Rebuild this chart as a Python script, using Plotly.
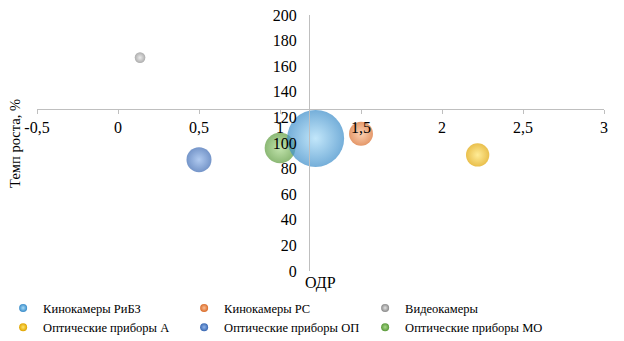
import plotly.graph_objects as go

# ---- data ----
series_names = ["Кинокамеры РиБЗ", "Кинокамеры РС", "Видеокамеры",
                "Оптические приборы А", "Оптические приборы ОП", "Оптические приборы МО"]
odr_values = [1.22, 1.50, 0.136, 2.22, 0.50, 1.00]          # X: ОДР
growth_values = [103.6, 107.3, 166.7, 90.7, 87.0, 96.1]      # Y: Темп роста, %
bubble_sizes = [100, 17.7, 3.5, 16.7, 19.2, 29.0]            # bubble size (area)

x_tick_vals = [-0.5, 0, 0.5, 1, 1.5, 2, 2.5, 3]
x_tick_labels = ["-0,5", "0", "0,5", "1", "1,5", "2", "2,5", "3"]
y_tick_vals = [0, 20, 40, 60, 80, 100, 120, 140, 160, 180, 200]
y_tick_labels = [str(v) for v in y_tick_vals]

X_RANGE = [-0.5, 3]
Y_RANGE = [0, 200]
X_CROSS = 1.179   # vertical axis crosses at this ОДР
Y_CROSS = 126.8   # horizontal axis crosses at this growth rate

# ---- style ----
edge_colors = ["#3A8CC9", "#D96C2A", "#8A8A8A", "#E0A400", "#3A68B2", "#5A9A3A"]
center_colors = ["#A8DCF8", "#FBBE94", "#E2E2E2", "#FFE46A", "#8FB4EA", "#A8D88A"]
FONT = "Liberation Serif, Times New Roman, serif"
MAX_D = 57

fig = go.Figure()

sizeref = 2.0 * max(bubble_sizes) / (MAX_D ** 2)
draw_order = [5, 4, 3, 2, 1, 0]
for i in draw_order:
    fig.add_trace(go.Scatter(
        x=[odr_values[i]], y=[growth_values[i]], mode="markers",
        name=series_names[i], showlegend=False, hoverinfo="name",
        marker=dict(size=[bubble_sizes[i]], sizemode="area", sizeref=sizeref,
                    color=edge_colors[i], line=dict(width=0),
                    gradient=dict(type="radial", color=center_colors[i])),
    ))

for i in range(len(series_names)):
    fig.add_trace(go.Scatter(
        x=[None], y=[None], mode="markers", name=series_names[i],
        marker=dict(size=8, color=edge_colors[i], line=dict(width=0),
                    gradient=dict(type="radial", color=center_colors[i])),
    ))

xpos = (Y_CROSS - Y_RANGE[0]) / (Y_RANGE[1] - Y_RANGE[0])
ypos = (X_CROSS - X_RANGE[0]) / (X_RANGE[1] - X_RANGE[0])

fig.update_layout(
    width=624, height=341,
    margin=dict(l=37, r=20, t=15, b=70, autoexpand=False),
    paper_bgcolor="white", plot_bgcolor="white",
    font=dict(family=FONT, size=16, color="black"),
    xaxis=dict(range=X_RANGE, tickvals=x_tick_vals, ticktext=x_tick_labels,
               anchor="free", position=xpos, showline=True, linecolor="#BFBFBF",
               linewidth=1, ticks="outside", ticklen=4, tickcolor="#BFBFBF",
               showgrid=False, zeroline=False, automargin=False,
               tickfont=dict(family=FONT, size=16)),
    yaxis=dict(range=Y_RANGE, tickvals=y_tick_vals, ticktext=y_tick_labels,
               anchor="free", position=ypos, showline=True, linecolor="#BFBFBF",
               linewidth=1, ticks="", showgrid=False, zeroline=False, automargin=False,
               ticklabelstandoff=9, tickfont=dict(family=FONT, size=16)),
    legend=dict(orientation="h", xref="container", x=0.005, xanchor="left",
                yref="container", y=0.14, yanchor="top",
                entrywidth=136, font=dict(family=FONT, size=12.5),
                traceorder="normal", itemwidth=30, tracegroupgap=0),
    annotations=[
        dict(text="Темп роста, %", textangle=-90, xref="paper", yref="paper",
             x=-0.039, y=0.5, xanchor="center", yanchor="middle",
             showarrow=False, font=dict(family=FONT, size=14.5)),
        dict(text="ОДР", xref="paper", yref="paper", x=0.5, y=-0.047,
             xanchor="center", yanchor="middle",
             showarrow=False, font=dict(family=FONT, size=16)),
    ],
    showlegend=True,
)

fig.write_html("out.html")
